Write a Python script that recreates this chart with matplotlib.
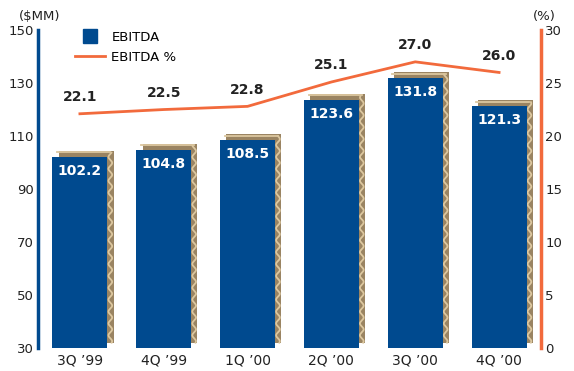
import numpy as np
import matplotlib.pyplot as plt
from matplotlib.lines import Line2D

# data
quarters = ["3Q \u201999", "4Q \u201999", "1Q \u201900", "2Q \u201900", "3Q \u201900", "4Q \u201900"]
ebitda = [102.2, 104.8, 108.5, 123.6, 131.8, 121.3]
ebitda_pct = [22.1, 22.5, 22.8, 25.1, 27.0, 26.0]

blue = "#004a8f"
orange = "#f26a3c"
brown = "#9a8462"
light = "#dcc79f"

fig = plt.figure(figsize=(5.74, 3.71), dpi=100)
ax = fig.add_axes([0.0662, 0.062, 0.8763, 0.857])
ax2 = ax.twinx()

x = np.arange(len(quarters))
w = 0.655
dx = 0.075   # shadow offset (x)
dy = 2.3     # shadow offset (y)
base = 30

# shadow bars with wavy highlight
for xi, v in zip(x, ebitda):
    ax.bar(xi + dx, v + dy - 31.9, width=w, bottom=31.9, color=brown, zorder=1)
    ys = np.linspace(32, v + dy - 0.8, 300)
    xr = xi + dx + w / 2 - 0.04 + 0.022 * np.sin(ys * 1.4)
    ax.plot(xr, ys, color=light, lw=1.3, zorder=1.5)
    ax.plot([xi + dx - w / 2 - 0.02, xi + dx + w / 2 - 0.04], [v + dy - 0.6] * 2,
            color=light, lw=1.3, zorder=1.5)

ax.bar(x, np.array(ebitda) - base, width=w, bottom=base, color=blue, zorder=2)
for xi, v in zip(x, ebitda):
    ax.text(xi, v - 2.6, f"{v:.1f}", ha="center", va="top", color="white",
            fontsize=10, fontweight="bold", zorder=3)

ax2.plot(x, ebitda_pct, color=orange, lw=2)
for xi, p in zip(x, ebitda_pct):
    ax2.text(xi, p + 0.9, f"{p:.1f}", ha="center", va="bottom", color="#222222",
             fontsize=10, fontweight="bold")

ax.set_xlim(-0.5, 5.5)
ax.set_ylim(30, 150)
ax2.set_ylim(0, 30)
ax.set_yticks(range(30, 151, 20))
ax2.set_yticks(range(0, 31, 5))
ax.set_xticks(x)
ax.set_xticklabels(quarters, fontsize=10, color="#222222")
ax.tick_params(axis="x", length=0, pad=4)
ax.tick_params(axis="y", length=0, labelsize=9.5, colors="#222222", pad=3)
ax2.tick_params(axis="y", length=0, labelsize=9.5, colors="#222222", pad=3)

for a in (ax, ax2):
    for s in ("top", "bottom"):
        a.spines[s].set_visible(False)
ax.spines["right"].set_visible(False)
ax2.spines["left"].set_visible(False)
ax.spines["left"].set_color(blue)
ax.spines["left"].set_linewidth(2.5)
ax2.spines["right"].set_color(orange)
ax2.spines["right"].set_linewidth(2.5)

fig.text(0.033, 0.955, "($MM)", fontsize=9.5, color="#222222", ha="left", va="center")
fig.text(0.928, 0.955, "(%)", fontsize=9.5, color="#222222", ha="left", va="center")

# legend
handles = [Line2D([], [], marker="s", color=blue, linestyle="none", markersize=10),
           Line2D([], [], color=orange, lw=2)]
ax.legend(handles, ["EBITDA", "EBITDA %"], loc="upper left",
          bbox_to_anchor=(0.05, 1.035), frameon=False, fontsize=9.5,
          handlelength=2.3, handletextpad=0.45, labelspacing=0.55)

fig.savefig("out.png", dpi=100)
